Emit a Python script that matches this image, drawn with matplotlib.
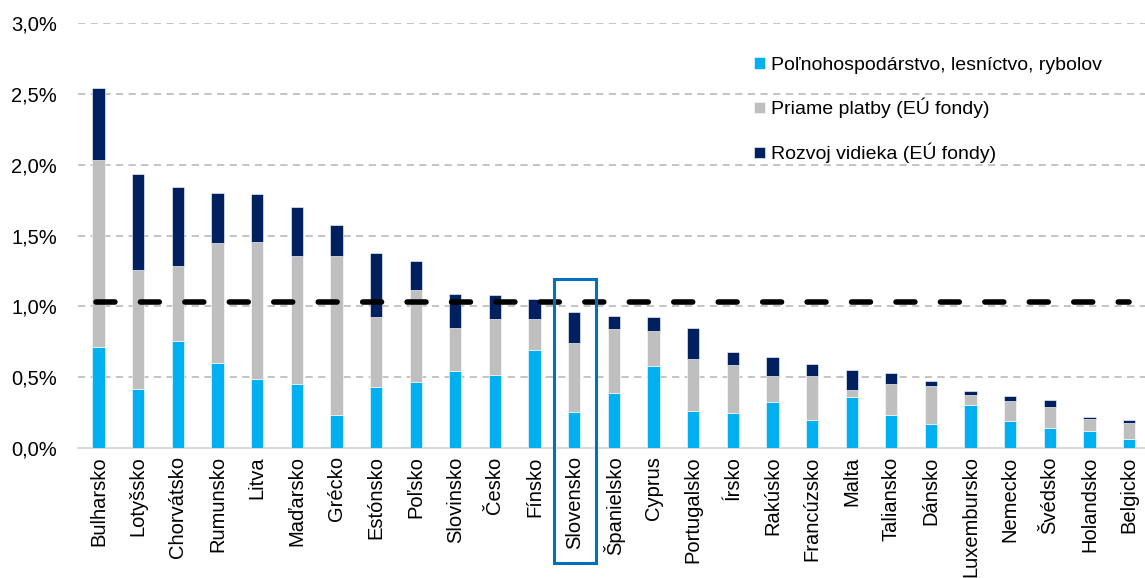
import matplotlib
matplotlib.use('Agg')
import matplotlib.pyplot as plt
import numpy as np
from matplotlib.patches import Rectangle

plt.rcParams['font.family'] = ['Liberation Sans Narrow', 'Liberation Sans', 'DejaVu Sans']

countries = ['Bulharsko', 'Lotyšsko', 'Chorvátsko', 'Rumunsko', 'Litva', 'Maďarsko',
             'Grécko', 'Estónsko', 'Poľsko', 'Slovinsko', 'Česko', 'Fínsko', 'Slovensko',
             'Španielsko', 'Cyprus', 'Portugalsko', 'Írsko', 'Rakúsko', 'Francúzsko',
             'Malta', 'Taliansko', 'Dánsko', 'Luxembursko', 'Nemecko', 'Švédsko',
             'Holandsko', 'Belgicko']

# shares of GDP, %
agri = [0.71, 0.415, 0.752, 0.597, 0.488, 0.455, 0.234, 0.432, 0.469, 0.547, 0.517,
        0.689, 0.252, 0.391, 0.578, 0.262, 0.248, 0.326, 0.198, 0.363, 0.231, 0.172,
        0.304, 0.189, 0.139, 0.12, 0.064]
direct = [1.325, 0.84, 0.536, 0.852, 0.968, 0.897, 1.118, 0.49, 0.644, 0.297, 0.391,
          0.219, 0.489, 0.451, 0.25, 0.363, 0.337, 0.181, 0.307, 0.047, 0.22, 0.269,
          0.069, 0.144, 0.153, 0.087, 0.115]
rural = [0.505, 0.68, 0.552, 0.351, 0.339, 0.351, 0.224, 0.451, 0.205, 0.246, 0.173,
         0.146, 0.221, 0.092, 0.094, 0.219, 0.092, 0.137, 0.087, 0.14, 0.08, 0.033,
         0.028, 0.035, 0.048, 0.014, 0.019]
eu_avg = 1.031

x = np.arange(len(countries))
agri = np.array(agri)
direct = np.array(direct)
rural = np.array(rural)

fig = plt.figure(figsize=(11.45, 5.78), dpi=100)
ax = fig.add_axes([78 / 1145, 130 / 578, 1 - 78 / 1145, 1 - 153 / 578])

w = 0.31
ax.bar(x, agri, w, color='#00B0F0', edgecolor='white', linewidth=0.4,
       label='Poľnohospodárstvo, lesníctvo, rybolov', zorder=3)
ax.bar(x, direct, w, bottom=agri, color='#BFBFBF', edgecolor='white', linewidth=0.4,
       label='Priame platby (EÚ fondy)', zorder=3)
ax.bar(x, rural, w, bottom=agri + direct, color='#002060', edgecolor='white', linewidth=0.4,
       label='Rozvoj vidieka (EÚ fondy)', zorder=3)

ax.plot([x[0] - 0.07, x[-1]], [eu_avg, eu_avg], color='black', lw=4,
        dashes=(3.4, 4.6), dash_capstyle='round', zorder=4)

ax.set_ylim(0, 3.0)
ax.set_xlim(-0.52, 26.4)
ax.set_yticks(np.arange(0, 3.01, 0.5))
ax.set_yticklabels([f'{v:.1f}%'.replace('.', ',') for v in np.arange(0, 3.01, 0.5)],
                   fontsize=14.5)
ax.grid(axis='y', color='#BFBFBF', lw=1.3, ls=(0, (4, 3)), zorder=0)
ax.set_xticks(x)
ax.set_xticklabels(countries, rotation=90, fontsize=14.5)
ax.tick_params(axis='both', length=0, pad=6)
ax.tick_params(axis='y', pad=15)
for s in ['top', 'right', 'left']:
    ax.spines[s].set_visible(False)
ax.spines['bottom'].set_color('#D9D9D9')
ax.spines['bottom'].set_linewidth(1.5)

# highlight box around Slovensko
rect = Rectangle((554 / 1145, 15 / 578), 42 / 1145, 284 / 578, transform=fig.transFigure,
                 fill=False, edgecolor='#0070C0', lw=2.2, zorder=10)
fig.patches.append(rect)

ax.legend(loc='upper left', bbox_to_anchor=(0.617, 0.962), frameon=False, fontsize=14,
          handlelength=0.55, handleheight=0.55, handletextpad=0.35, labelspacing=1.25)

fig.savefig('out.png', dpi=100)
